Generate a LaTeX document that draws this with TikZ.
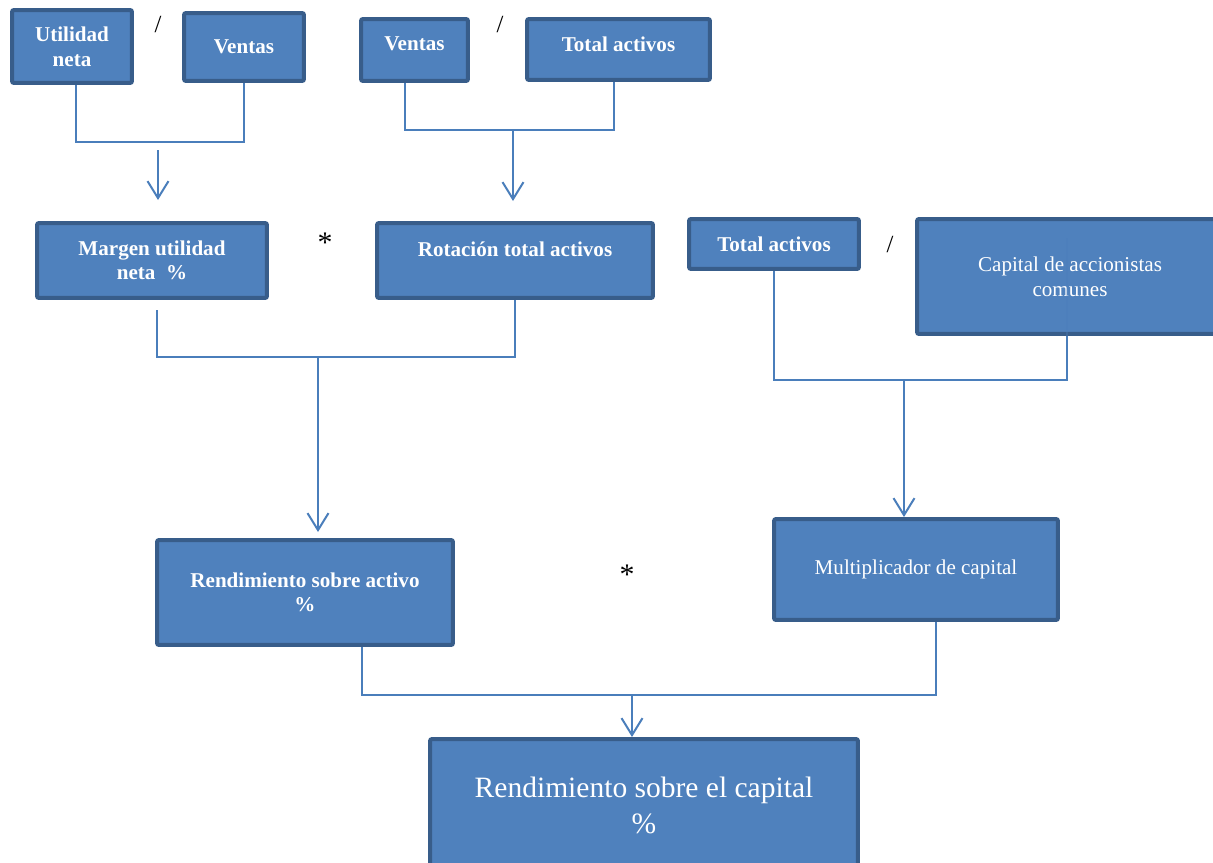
\documentclass[tikz,border=0pt]{standalone}
\usepackage{fontspec}
\setmainfont{Liberation Serif}
\usetikzlibrary{arrows.meta}

\definecolor{boxfill}{HTML}{4F81BD}
\definecolor{boxline}{HTML}{385D8A}
\definecolor{linkblue}{HTML}{4A7EBB}

\begin{document}
\begin{tikzpicture}[x=0.02cm, y=-0.02cm,
        box/.style={draw=boxline, fill=boxfill, line width=0.08cm, rounded corners=0.04cm,
            text=white, align=center, inner sep=0pt, font=\fontsize{12}{14}\selectfont},
        bbox/.style={box, font=\fontsize{12}{14}\selectfont\bfseries},
        link/.style={draw=linkblue, line width=0.04cm},
        arrowline/.style={link, -{Straight Barb[length=0.34cm, width=0.42cm]}},
        op/.style={font=\fontsize{14}{14}\selectfont},
        star/.style={font=\fontsize{17}{17}\selectfont}]
        \useasboundingbox (0,0) rectangle (1213,862);

        % Margen = Utilidad neta / Ventas
        \node[bbox, minimum width=2.4cm, minimum height=1.46cm] (util) at (72,46.5) {Utilidad\\neta};
        \node[op] (divA) at (158,25) {/};
        \node[bbox, minimum width=2.4cm, minimum height=1.36cm] (ventasA) at (244,47) {Ventas};

        % Rotacion = Ventas / Total activos
        \node[bbox, minimum width=2.14cm, minimum height=1.24cm, text depth=0.24cm] (ventasB) at (414.5,50) {Ventas};
        \node[op] (divB) at (500,25) {/};
        \node[bbox, minimum width=3.66cm, minimum height=1.22cm, text depth=0.22cm] (activosA) at (618.5,49.5) {Total activos};

        % Second row
        \node[bbox, minimum width=4.6cm, minimum height=1.5cm] (margen) at (152,260.5) {Margen utilidad\\neta\ \ \%};
        \node[star] (multA) at (325,243) {*};
        \node[bbox, minimum width=5.52cm, minimum height=1.5cm, text depth=0.46cm] (rotacion) at (515,260.5) {Rotación total activos};
        \node[bbox, minimum width=3.4cm, minimum height=1.0cm] (activosB) at (774,244) {Total activos};
        \node[op] (divC) at (890,245) {/};
        \node[box, minimum width=6.12cm, minimum height=2.3cm] (capital) at (1070,276.5) {Capital de accionistas\\comunes};

        % Third row
        \node[bbox, minimum width=5.92cm, minimum height=2.1cm] (rsa) at (305,592.5) {Rendimiento sobre activo\\\%};
        \node[star] (multB) at (627,575) {*};
        \node[box, minimum width=5.68cm, minimum height=2.02cm] (multiplicador) at (916,569.5) {Multiplicador de capital};

        % Result
        \node[box, minimum width=8.56cm, minimum height=2.64cm, font=\fontsize{16.8}{20.5}\selectfont] (rsc) at (644,805) {Rendimiento sobre el capital\\\%};

        % Joins and free ends
        \coordinate (utilJoin) at (158,142);
        \coordinate (utilDown) at (158,150);
        \coordinate (margenIn) at (158,200);
        \coordinate (ventasJoin) at (513,130);
        \coordinate (rotacionIn) at (513,201);
        \coordinate (margenOut) at (157,310);
        \coordinate (rsaJoin) at (318,357);
        \coordinate (rsaIn) at (318,532);
        \coordinate (capitalIn) at (1067,238);
        \coordinate (capitalJoin) at (904,380);
        \coordinate (rscJoin) at (632,695);

        % Connectors
        \draw[link] ([xshift=0.08cm]util.south) |- (utilJoin) -| (ventasA.south);
        \draw[arrowline] (utilDown) -- (margenIn);
        \draw[link] ([xshift=-0.19cm]ventasB.south) |- (ventasJoin) -| ([xshift=-0.09cm]activosA.south);
        \draw[arrowline] (ventasJoin) -- (rotacionIn);
        \draw[link] (margenOut) |- (rsaJoin) -| (rotacion.south);
        \draw[arrowline] (rsaJoin) -- (rsaIn);
        \draw[link] (activosB.south) |- (capitalJoin) -| (capital.south -| capitalIn);
        \draw[link, opacity=0.35] (capital.south -| capitalIn) -- (capitalIn);
        \draw[arrowline] (capitalJoin) -- (capitalJoin |- multiplicador.north);
        \draw[link] ([xshift=1.14cm]rsa.south) |- (rscJoin) -| ([xshift=0.4cm]multiplicador.south);
        \draw[arrowline] (rscJoin) -- (rscJoin |- rsc.north);
    \end{tikzpicture}
\end{document}
